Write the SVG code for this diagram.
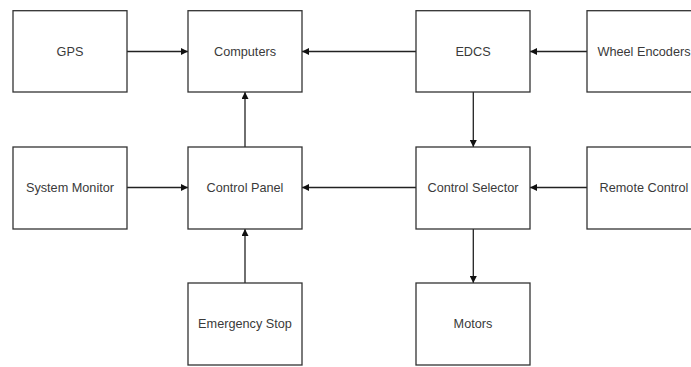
<svg xmlns="http://www.w3.org/2000/svg" width="691" height="367" viewBox="0 0 691 367">
<style>
.box{fill:#fff;stroke:#333;stroke-width:1.3}
.lbl{font-family:"Liberation Sans",Arial,sans-serif;font-size:12.7px;fill:#3a3a3a;text-anchor:middle;dominant-baseline:central}
.edge{stroke:#222;stroke-width:1.3;fill:none;marker-end:url(#ah)}
</style>
<defs>
<marker id="ah" viewBox="0 0 10 10" refX="10" refY="5" markerWidth="7" markerHeight="7" markerUnits="userSpaceOnUse" orient="auto">
<path d="M0,0 L10,5 L0,10 z" fill="#111"/>
</marker>
</defs>
<rect width="691" height="367" fill="#fff"/>
<g id="connectors">
<line class="edge" x1="127" y1="51.5" x2="188" y2="51.5"/>
<line class="edge" x1="416" y1="51.5" x2="302" y2="51.5"/>
<line class="edge" x1="587" y1="51.5" x2="530" y2="51.5"/>
<line class="edge" x1="473.3" y1="92" x2="473.3" y2="147"/>
<line class="edge" x1="245" y1="147" x2="245" y2="92"/>
<line class="edge" x1="127" y1="187.5" x2="188" y2="187.5"/>
<line class="edge" x1="416" y1="187.5" x2="302" y2="187.5"/>
<line class="edge" x1="587" y1="187.5" x2="530" y2="187.5"/>
<line class="edge" x1="245" y1="283" x2="245" y2="229"/>
<line class="edge" x1="473.3" y1="229" x2="473.3" y2="283"/>
</g>
<g id="gps"><rect class="box" x="13" y="10.7" width="114" height="81.3"/><text class="lbl" x="70" y="51.5">GPS</text></g>
<g id="computers"><rect class="box" x="188" y="10.7" width="114" height="81.3"/><text class="lbl" x="245" y="51.5">Computers</text></g>
<g id="edcs"><rect class="box" x="416" y="10.7" width="114" height="81.3"/><text class="lbl" x="473" y="51.5">EDCS</text></g>
<g id="wheel-encoders"><rect class="box" x="587" y="10.7" width="114" height="81.3"/><text class="lbl" x="644" y="51.5">Wheel Encoders</text></g>
<g id="system-monitor"><rect class="box" x="13" y="147" width="114" height="82"/><text class="lbl" x="70" y="187.5">System Monitor</text></g>
<g id="control-panel"><rect class="box" x="188" y="147" width="114" height="82"/><text class="lbl" x="245" y="187.5">Control Panel</text></g>
<g id="control-selector"><rect class="box" x="416" y="147" width="114" height="82"/><text class="lbl" x="473" y="187.5">Control Selector</text></g>
<g id="remote-control"><rect class="box" x="587" y="147" width="114" height="82"/><text class="lbl" x="644" y="187.5">Remote Control</text></g>
<g id="emergency-stop"><rect class="box" x="188" y="283" width="114" height="82"/><text class="lbl" x="245" y="323.5">Emergency Stop</text></g>
<g id="motors"><rect class="box" x="416" y="283" width="114" height="82"/><text class="lbl" x="473" y="323.5">Motors</text></g>
</svg>
